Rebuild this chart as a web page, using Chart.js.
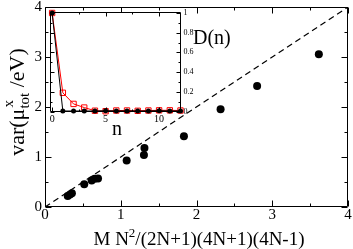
<!DOCTYPE html>
<html><head><meta charset="utf-8">
<script src="https://cdn.jsdelivr.net/npm/chart.js@4"></script>
<style>
html,body{margin:0;padding:0;background:#fff;}
#wrap{position:relative;width:353px;height:249px;}
canvas{position:absolute;left:0;top:0;}
</style>
</head><body>
<div id="wrap"><canvas id="main" width="353" height="249"></canvas><canvas id="inset" width="353" height="249"></canvas></div>
<script>
// ---- main scatter data ----
const mainX = [0.30, 0.33, 0.355, 0.518, 0.616, 0.655, 0.70, 1.078, 1.306, 1.313, 1.834, 2.318, 2.80, 3.615];
const mainY = [0.22, 0.25, 0.275, 0.454, 0.53, 0.565, 0.57, 0.93, 1.04, 1.18, 1.414, 1.954, 2.42, 3.054];
const diagX = [0, 4];
const diagY = [0, 4];
const mainXTicks = [0, 1, 2, 3, 4];
const mainXLabels = ['0', '1', '2', '3', '4'];
const mainYTicks = [0, 1, 2, 3, 4];
const mainYLabels = ['0', '1', '2', '3', '4'];
// ---- inset data ----
const insetN = [0, 1, 2, 3, 4, 5, 6, 7, 8, 9, 10, 11, 12];
const blackD = [1.0, 0.005, 0.005, 0.005, 0.005, 0.008, 0.006, 0.006, 0.005, 0.006, 0.008, 0.006, 0.006];
const redD   = [1.0, 0.19, 0.077, 0.04, 0.008, 0.003, 0.01, 0.01, 0.007, 0.01, 0.012, 0.012, 0.01];
const insetXTicks = [0, 5, 10];
const insetXLabels = ['0', '5', '10'];
const insetYTicks = [0, 0.2, 0.4, 0.6, 0.8, 1];
const insetYLabels = ['0', '0.2', '0.4', '0.6', '0.8', '1'];

const SERIF = '"Liberation Serif", "Times New Roman", serif';

function frameAndTicks(chart, xMajor, xMinor, yMajor, yMinor, majL, minL) {
  const ctx = chart.ctx, a = chart.chartArea, xs = chart.scales.x, ys = chart.scales.y;
  ctx.save();
  ctx.strokeStyle = '#000'; ctx.lineWidth = 1;
  const L = Math.round(a.left) + 0.5, R = Math.round(a.right) - 0.5, T = Math.round(a.top) + 0.5, B = Math.round(a.bottom) - 0.5;
  ctx.beginPath();
  ctx.rect(L, T, R - L, B - T);
  const tick = (vals, len) => {
    vals.forEach(v => {
      const px = Math.round(xs.getPixelForValue(v)) + 0.5;
      ctx.moveTo(px, B); ctx.lineTo(px, B - len);
      ctx.moveTo(px, T); ctx.lineTo(px, T + len);
    });
  };
  const ticky = (vals, len) => {
    vals.forEach(v => {
      const py = Math.round(ys.getPixelForValue(v)) + 0.5;
      ctx.moveTo(L, py); ctx.lineTo(L + len, py);
      ctx.moveTo(R, py); ctx.lineTo(R - len, py);
    });
  };
  tick(xMajor, majL); tick(xMinor, minL);
  ticky(yMajor, majL); ticky(yMinor, minL);
  ctx.stroke();
  ctx.restore();
}
function mids(arr, extra) {
  const out = [];
  for (let i = 0; i < arr.length - 1; i++) out.push((arr[i] + arr[i + 1]) / 2);
  if (extra !== undefined) out.push(extra);
  return out;
}

const mainPlugin = {
  id: 'mainDecor',
  afterDraw(chart) {
    frameAndTicks(chart, mainXTicks, mids(mainXTicks), mainYTicks, mids(mainYTicks), 6, 3);
    const ctx = chart.ctx;
    // x title
    ctx.save();
    ctx.fillStyle = '#000';
    ctx.textBaseline = 'alphabetic';
    const big = '19px ' + SERIF, sup = '13px ' + SERIF;
    const p1 = 'M N', p2 = '2', p3 = '/(2N+1)(4N+1)(4N-1)';
    ctx.font = big; const w1 = ctx.measureText(p1).width, w3 = ctx.measureText(p3).width;
    ctx.font = sup; const w2 = ctx.measureText(p2).width;
    let x0 = 199 - (w1 + w2 + w3) / 2; const by = 245;
    ctx.font = big; ctx.fillText(p1, x0, by);
    ctx.font = sup; ctx.fillText(p2, x0 + w1, by - 8);
    ctx.font = big; ctx.fillText(p3, x0 + w1 + w2, by);
    ctx.restore();
    // y title
    ctx.save();
    ctx.fillStyle = '#000';
    ctx.translate(24, 102); ctx.rotate(-Math.PI / 2);
    const yb = '22px ' + SERIF, ys = '15px ' + SERIF;
    const q1 = 'var(\u03bc', q2 = 'tot', q3 = 'x', q4 = ' /eV)';
    ctx.font = yb; const v1 = ctx.measureText(q1).width, v4 = ctx.measureText(q4).width;
    ctx.font = ys; const v2 = ctx.measureText(q2).width, v3 = ctx.measureText(q3).width;
    const tot = v1 + Math.max(v2, v3) + v4;
    let sx = -tot / 2;
    ctx.font = yb; ctx.fillText(q1, sx, 0);
    ctx.font = ys; ctx.fillText(q2, sx + v1, 5); ctx.fillText(q3, sx + v1 + 1, -11);
    ctx.font = yb; ctx.fillText(q4, sx + v1 + Math.max(v2, v3), 0);
    ctx.restore();
  }
};

new Chart(document.getElementById('main').getContext('2d'), {
  type: 'scatter',
  data: {
    datasets: [
      { data: mainX.map((x, i) => ({ x, y: mainY[i] })), pointRadius: 4, pointBackgroundColor: '#000', pointBorderColor: '#000', pointBorderWidth: 0, showLine: false },
      { type: 'line', data: diagX.map((x, i) => ({ x, y: diagY[i] })), borderColor: '#000', borderWidth: 1.2, borderDash: [6, 4], pointRadius: 0, fill: false }
    ]
  },
  options: {
    responsive: false, animation: false, devicePixelRatio: 1,
    layout: { padding: { left: 0, top: 7, right: 5, bottom: 0 } },
    plugins: { legend: { display: false }, tooltip: { enabled: false } },
    scales: {
      x: {
        type: 'linear', min: 0, max: 4,
        grid: { display: false, drawTicks: false }, border: { display: false },
        ticks: { color: '#000', font: { family: SERIF, size: 15, lineHeight: 1.1 }, padding: 0, maxRotation: 0, autoSkip: false,
          callback: (v) => { const i = mainXTicks.indexOf(v); return i >= 0 ? mainXLabels[i] : ''; } },
        afterBuildTicks: s => { s.ticks = mainXTicks.map(v => ({ value: v })); },
        afterFit: s => { s.height = 42; s.paddingLeft = 0; s.paddingRight = 0; }
      },
      y: {
        type: 'linear', min: 0, max: 4,
        grid: { display: false, drawTicks: false }, border: { display: false },
        ticks: { color: '#000', font: { family: SERIF, size: 15 }, padding: 3, autoSkip: false,
          callback: (v) => { const i = mainYTicks.indexOf(v); return i >= 0 ? mainYLabels[i] : ''; } },
        afterBuildTicks: s => { s.ticks = mainYTicks.map(v => ({ value: v })); },
        afterFit: s => { s.width = 45; s.paddingTop = 0; s.paddingBottom = 0; }
      }
    }
  },
  plugins: [mainPlugin]
});

const insetPlugin = {
  id: 'insetDecor',
  beforeDraw(chart) {
    const ctx = chart.ctx, a = chart.chartArea;
    ctx.save(); ctx.fillStyle = '#fff';
    ctx.fillRect(a.left, a.top, a.right - a.left, a.bottom - a.top);
    ctx.restore();
  },
  afterDraw(chart) {
    frameAndTicks(chart, insetXTicks, [2.5, 7.5], insetYTicks, mids(insetYTicks), 4, 2);
    const ctx = chart.ctx;
    ctx.save();
    ctx.fillStyle = '#000';
    ctx.font = '20px ' + SERIF;
    ctx.textAlign = 'left'; ctx.textBaseline = 'alphabetic';
    ctx.fillText('D(n)', 193, 44);
    ctx.textAlign = 'center';
    ctx.fillText('n', 117, 135);
    ctx.restore();
  }
};

new Chart(document.getElementById('inset').getContext('2d'), {
  type: 'line',
  data: {
    datasets: [
      { data: insetN.map((n, i) => ({ x: n, y: blackD[i] })), borderColor: '#000', borderWidth: 1, pointRadius: 2.5, pointBackgroundColor: '#000', pointBorderWidth: 0, clip: false, tension: 0 },
      { data: insetN.map((n, i) => ({ x: n, y: redD[i] })), borderColor: '#ff0000', borderWidth: 1, pointStyle: 'rect', pointRadius: 3.8, pointBackgroundColor: 'rgba(255,255,255,0)', pointBorderColor: '#ff0000', pointBorderWidth: 1, clip: false, tension: 0 }
    ]
  },
  options: {
    responsive: false, animation: false, devicePixelRatio: 1,
    layout: { padding: { left: 50, top: 12, right: 353 - 180.5 - 20, bottom: 249 - 111.5 - 14 } },
    plugins: { legend: { display: false }, tooltip: { enabled: false } },
    scales: {
      x: {
        type: 'linear', min: -0.2, max: 12, position: 'bottom',
        grid: { display: false, drawTicks: false }, border: { display: false },
        ticks: { color: '#000', font: { family: SERIF, size: 10 }, padding: 1.5, maxRotation: 0, autoSkip: false,
          callback: (v) => { const i = insetXTicks.indexOf(v); return i >= 0 ? insetXLabels[i] : ''; } },
        afterBuildTicks: s => { s.ticks = insetXTicks.map(v => ({ value: v })); },
        afterFit: s => { s.height = 14; s.paddingLeft = 0; s.paddingRight = 0; }
      },
      y: {
        type: 'linear', min: 0, max: 1.01, position: 'right',
        grid: { display: false, drawTicks: false }, border: { display: false },
        ticks: { color: '#000', font: { family: SERIF, size: 8 }, padding: 3, autoSkip: false,
          callback: (v) => { const i = insetYTicks.indexOf(v); return i >= 0 ? insetYLabels[i] : ''; } },
        afterBuildTicks: s => { s.ticks = insetYTicks.map(v => ({ value: v })); },
        afterFit: s => { s.width = 20; s.paddingTop = 0; s.paddingBottom = 0; }
      }
    }
  },
  plugins: [insetPlugin]
});
</script>
</body></html>
